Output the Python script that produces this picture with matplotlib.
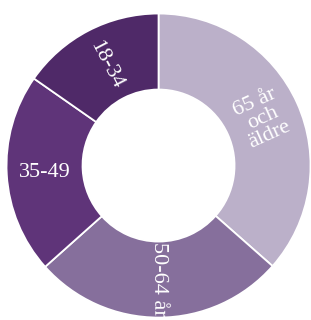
import numpy as np
import matplotlib
matplotlib.use("Agg")
import matplotlib.pyplot as plt

labels = ["65 år\noch\näldre", "50-64 år", "35-49", "18-34"]
values = [36.5, 26.9, 21.3, 15.3]
colors = ["#bbb0c9", "#866f9c", "#5f3479", "#4f2968"]

fig = plt.figure(figsize=(3.11, 3.20), dpi=100)
ax = fig.add_axes([0, 0, 1, 1])
wedges, _ = ax.pie(values, colors=colors, startangle=90, counterclock=False,
                   radius=1.0, wedgeprops=dict(width=0.5, edgecolor="white", linewidth=1.3))

r_lab = 0.75
for w, lab in zip(wedges, labels):
    mid = np.deg2rad((w.theta1 + w.theta2) / 2)
    x, y = r_lab * np.cos(mid), r_lab * np.sin(mid)
    rot = np.rad2deg(mid)
    rot = (rot + 180) % 360 - 180
    if rot > 90:
        rot -= 180
    elif rot < -90:
        rot += 180
    if abs(rot) < 10:
        rot = 0
    ax.text(x, y, lab, color="white", ha="center", va="center", rotation=rot,
            rotation_mode="anchor", fontsize=16, family="Liberation Serif",
            linespacing=0.92)

ax.set_xlim(-1.043, 1.003)
ax.set_ylim(-1.016, 1.089)
ax.set_aspect("auto")
ax.axis("off")
fig.savefig("out.png", dpi=100)
